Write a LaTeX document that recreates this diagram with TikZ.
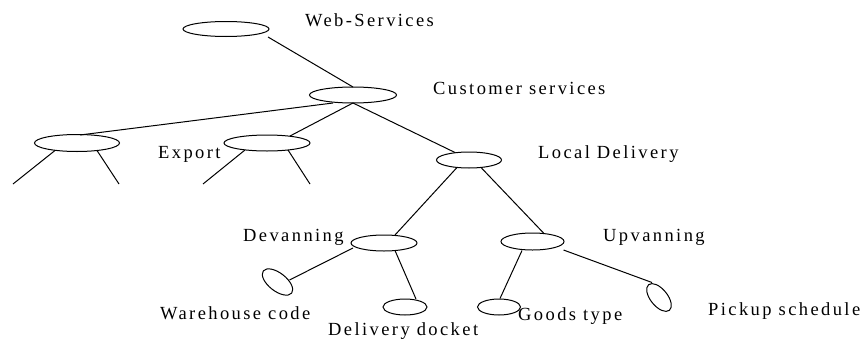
\documentclass[tikz,border=0pt]{standalone}
\usepackage{fontspec}
\setmainfont{Liberation Serif}
\newfontfamily\lblfont[LetterSpace=13]{Liberation Serif}
\usetikzlibrary{shapes.geometric,calc}
\begin{document}
\begin{tikzpicture}[x=1pt,y=-1pt,
  ell/.style={ellipse,draw=black,line width=1pt,inner sep=0pt,outer sep=0pt},
  conn/.style={draw=black,line width=1pt},
  lbl/.style={anchor=base west,inner sep=0pt,font=\lblfont\fontsize{18.5}{20}\selectfont}]
\useasboundingbox[fill=white] (0,0) rectangle (861,340);
% ellipses
\node[ell,minimum width=86pt,minimum height=15pt] (ws) at (226,29) {};
\node[ell,minimum width=87pt,minimum height=16pt] (cs) at (353,95) {};
\node[ell,minimum width=85pt,minimum height=17pt] (lf) at (77,143) {};
\node[ell,minimum width=86pt,minimum height=16pt] (ex) at (267,143) {};
\node[ell,minimum width=65pt,minimum height=16pt] (ld) at (469,160) {};
\node[ell,minimum width=66pt,minimum height=16pt] (dv) at (384,243) {};
\node[ell,minimum width=63pt,minimum height=17pt] (up) at (532.5,241.5) {};
\node[ell,minimum width=44pt,minimum height=16pt] (dk) at (405,307) {};
\node[ell,minimum width=43pt,minimum height=16pt] (gd) at (499,307) {};
\node[ell,minimum width=36pt,minimum height=18pt,rotate=-38] (wh) at (277.5,282) {};
\node[ell,minimum width=33pt,minimum height=17pt,rotate=-51] (pk) at (659,297.5) {};
% free ends
\coordinate (lfa) at (13,184);
\coordinate (lfb) at (119,184);
\coordinate (exa) at (203,184);
\coordinate (exb) at (310,184);
% connectors
\draw[conn] ($(ws.center)+(42,8)$) -- (cs.north);
\draw[conn] ($(cs.center)+(-20,8)$) -- ($(lf.center)+(3,-8)$);
\draw[conn] (cs.south) -- ($(ex.center)+(23,-7)$);
\draw[conn] (cs.south) -- ($(ld.center)+(-14,-7.5)$);
\draw[conn] ($(lf.center)+(-22,7.5)$) -- (lfa);
\draw[conn] ($(lf.center)+(20,7.5)$) -- (lfb);
\draw[conn] ($(ex.center)+(-22,7)$) -- (exa);
\draw[conn] ($(ex.center)+(21,7)$) -- (exb);
\draw[conn] ($(ld.center)+(-12,7.5)$) -- ($(dv.center)+(11,-8)$);
\draw[conn] ($(ld.center)+(12,7.5)$) -- ($(up.center)+(11.5,-8)$);
\draw[conn] ($(dv.center)+(-31,5)$) -- ($(wh.center)+(12,-2)$);
\draw[conn] ($(dv.center)+(11,7.5)$) -- ($(dk.center)+(11,-8)$);
\draw[conn] ($(up.center)+(-10.5,9)$) -- ($(gd.center)+(1,-8.5)$);
\draw[conn] ($(up.center)+(31,8.5)$) -- ($(pk.center)+(-7,-15)$);
% labels
\node[lbl] (tws) at (305,27) {Web-Services};
\node[lbl] (tcs) at (433,94) {Customer services};
\node[lbl] (tex) at (158,158) {Export};
\node[lbl] (tld) at (538,158) {Local Delivery};
\node[lbl] (tdv) at (243,241.5) {Devanning};
\node[lbl] (tup) at (603,241.5) {Upvanning};
\node[lbl] (twh) at (160,319.5) {Warehouse code};
\node[lbl] (tdk) at (328,335) {Delivery docket};
\node[lbl] (tgd) at (518,320) {Goods type};
\node[lbl] (tpk) at (708,315) {Pickup schedule};
\end{tikzpicture}
\end{document}
